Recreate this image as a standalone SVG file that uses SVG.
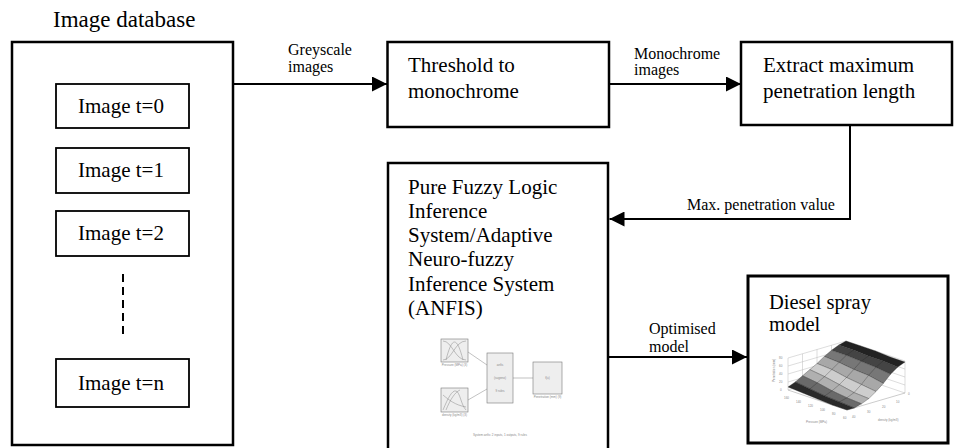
<svg xmlns="http://www.w3.org/2000/svg" width="955" height="448" viewBox="0 0 955 448">
<style>
.box{fill:#fff;stroke:#000}
.t{font-family:"Liberation Serif","Times New Roman",serif;fill:#000}
.big{font-size:21px}
.lbl{font-size:16px}
.mid{text-anchor:middle}
.tiny{font-family:"Liberation Sans",Arial,sans-serif;font-size:3px;fill:#888}
.conn{fill:none;stroke:#000;stroke-width:2}
.thumb{fill:#eee;stroke:#777;stroke-width:0.6}
.mf{fill:none;stroke:#888;stroke-width:0.5}
.grid{fill:none;stroke:#bbb;stroke-width:0.5}
.mesh{fill:none;stroke:#222;stroke-width:0.3}
</style>
<defs>
<marker id="arr" markerUnits="userSpaceOnUse" markerWidth="15" markerHeight="15" refX="15" refY="7.5" orient="auto">
<path d="M0,0 L15,7.5 L0,15 z" fill="#000"/>
</marker>
</defs>
<rect width="955" height="448" fill="#fff"/>

<g id="image-database">
<text class="t" x="53" y="27" font-size="23">Image database</text>
<rect class="box" x="12" y="42" width="221" height="403" stroke-width="2.5"/>
</g>
<g id="image-t0">
<rect class="box" x="56" y="84" width="133" height="44" stroke-width="1.8"/>
<text class="t big mid" x="121" y="113">Image t=0</text>
</g>
<g id="image-t1">
<rect class="box" x="56" y="148" width="133" height="45" stroke-width="1.8"/>
<text class="t big mid" x="121" y="177">Image t=1</text>
</g>
<g id="image-t2">
<rect class="box" x="56" y="211" width="133" height="45" stroke-width="1.8"/>
<text class="t big mid" x="121" y="240">Image t=2</text>
</g>
<g id="image-dots">
<line x1="123" y1="274" x2="123" y2="337" stroke="#000" stroke-width="2" stroke-dasharray="8 5"/>
</g>
<g id="image-tn">
<rect class="box" x="56" y="359" width="133" height="48" stroke-width="1.8"/>
<text class="t big mid" x="121" y="390">Image t=n</text>
</g>

<g id="threshold">
<rect class="box" x="387.5" y="42" width="221.5" height="85" stroke-width="2.5"/>
<text class="t big" x="408" y="72">Threshold to</text>
<text class="t big" x="408" y="98">monochrome</text>
</g>

<g id="extract">
<rect class="box" x="741" y="42" width="211" height="83" stroke-width="2.5"/>
<text class="t big" x="763" y="72">Extract maximum</text>
<text class="t big" x="763" y="98">penetration length</text>
</g>

<g id="anfis">
<rect class="box" x="388" y="163" width="220" height="300" stroke-width="2.5"/>
<text class="t big" x="408" y="194">Pure Fuzzy Logic</text>
<text class="t big" x="408" y="218">Inference</text>
<text class="t big" x="408" y="242">System/Adaptive</text>
<text class="t big" x="408" y="266">Neuro-fuzzy</text>
<text class="t big" x="408" y="291">Inference System</text>
<text class="t big" x="408" y="315">(ANFIS)</text>
<g id="anfis-structure">
<line x1="468" y1="352" x2="487" y2="365" stroke="#999" stroke-width="0.6"/>
<line x1="468" y1="400" x2="487" y2="389" stroke="#999" stroke-width="0.6"/>
<line x1="513" y1="378" x2="533" y2="378" stroke="#999" stroke-width="0.6"/>
<rect class="thumb" x="441" y="339" width="27" height="23"/>
<path class="mf" d="M443,341 C452,341 455,360 466,360"/>
<path class="mf" d="M443,360 C452,360 455,341 466,341"/>
<path class="mf" d="M446,360 C452,336 457,336 463,360"/>
<text class="tiny mid" x="454.5" y="366">Pressure (MPa) (3)</text>
<rect class="thumb" x="441" y="388" width="27" height="24"/>
<path class="mf" d="M443,410 C448,398 452,390 456,391 C460,392 461,405 466,410"/>
<path class="mf" d="M443,395 C449,400 455,405 466,407"/>
<path class="mf" d="M446,410 C450,400 455,392 460,390"/>
<text class="tiny mid" x="454.5" y="416">density (kg/m3) (3)</text>
<rect class="thumb" x="487" y="353" width="26" height="50" fill="#f3f3f3"/>
<text class="tiny mid" x="500" y="366">anfis</text>
<text class="tiny mid" x="500" y="379">(sugeno)</text>
<text class="tiny mid" x="500" y="392">9 rules</text>
<rect class="thumb" x="533" y="362" width="29" height="32" fill="#ddd"/>
<text class="tiny mid" x="547.5" y="379">f(u)</text>
<text class="tiny mid" x="547.5" y="398">Penetration (mm) (9)</text>
<text class="tiny mid" x="500" y="436">System anfis: 2 inputs, 1 outputs, 9 rules</text>
</g>
</g>

<g id="diesel">
<rect class="box" x="748" y="276" width="200" height="167" stroke-width="3"/>
<text class="t" font-size="20.5" x="769" y="309">Diesel spray</text>
<text class="t" font-size="20.5" x="769" y="331">model</text>
<g id="surface-plot">
<polyline class="grid" points="788,390 846,373 905,393"/>
<polyline class="grid" points="788,382 846,365 905,385"/>
<polyline class="grid" points="788,374 846,357 905,377"/>
<polyline class="grid" points="788,366 846,349 905,369"/>
<polyline class="grid" points="788,358 846,341 905,361"/>
<line class="grid" x1="788" y1="390" x2="788" y2="358"/>
<line class="grid" x1="802.5" y1="385.8" x2="802.5" y2="353.8"/>
<line class="grid" x1="817" y1="381.5" x2="817" y2="349.5"/>
<line class="grid" x1="831.5" y1="377.3" x2="831.5" y2="345.3"/>
<line class="grid" x1="846" y1="373" x2="846" y2="341"/>
<line class="grid" x1="875.5" y1="383" x2="875.5" y2="351"/>
<line class="grid" x1="905" y1="393" x2="905" y2="361"/>
<polyline fill="none" stroke="#999" stroke-width="0.5" points="788,390 847,410 905,393"/>
<polygon fill="#222" stroke="#222" stroke-width="0.3" points="838.8,345.1 853.5,350.1 868.3,356.1 883,361.1 897.8,367.1 905,362 890.3,357 875.5,351 860.8,346 846,341"/>
<polygon fill="#444" stroke="#222" stroke-width="0.3" points="831.5,350.3 846.3,355.3 861,361.3 875.8,367.3 890.5,374.3 897.8,367.1 883,361.1 868.3,356.1 853.5,350.1 838.8,345.1"/>
<polygon fill="#777" stroke="#222" stroke-width="0.3" points="824.3,356.4 839,362.4 853.8,369.4 868.5,375.4 883.3,383.4 890.5,374.3 875.8,367.3 861,361.3 846.3,355.3 831.5,350.3"/>
<polygon fill="#a8a8a8" stroke="#222" stroke-width="0.3" points="817,363.5 831.8,369.5 846.5,377.5 861.3,384.5 876,391.5 883.3,383.4 868.5,375.4 853.8,369.4 839,362.4 824.3,356.4"/>
<polygon fill="#cdcdcd" stroke="#222" stroke-width="0.3" points="809.8,369.6 824.5,376.6 839.3,384.6 854,392.6 868.8,398.6 876,391.5 861.3,384.5 846.5,377.5 831.8,369.5 817,363.5"/>
<polygon fill="#b0b0b0" stroke="#222" stroke-width="0.3" points="802.5,375.8 817.3,382.8 832,390.8 846.8,397.8 861.5,403.8 868.8,398.6 854,392.6 839.3,384.6 824.5,376.6 809.8,369.6"/>
<polygon fill="#6a6a6a" stroke="#222" stroke-width="0.3" points="795.3,381.9 810,388.9 824.8,395.9 839.5,401.9 854.3,407.9 861.5,403.8 846.8,397.8 832,390.8 817.3,382.8 802.5,375.8"/>
<polygon fill="#2a2a2a" stroke="#222" stroke-width="0.3" points="788,387 802.8,393 817.5,399 832.3,405 847,410 854.3,407.9 839.5,401.9 824.8,395.9 810,388.9 795.3,381.9"/>
<polyline class="mesh" points="802.8,393 810,388.9 817.3,382.8 824.5,376.6 831.8,369.5 839,362.4 846.3,355.3 853.5,350.1 860.8,346"/>
<polyline class="mesh" points="817.5,399 824.8,395.9 832,390.8 839.3,384.6 846.5,377.5 853.8,369.4 861,361.3 868.3,356.1 875.5,351"/>
<polyline class="mesh" points="832.3,405 839.5,401.9 846.8,397.8 854,392.6 861.3,384.5 868.5,375.4 875.8,367.3 883,361.1 890.3,357"/>
<text class="tiny" x="780" y="391">0</text>
<text class="tiny" x="779" y="383">20</text>
<text class="tiny" x="779" y="375">40</text>
<text class="tiny" x="779" y="367">60</text>
<text class="tiny" x="779" y="359">80</text>
<text class="tiny" x="775" y="382" transform="rotate(-90 775 382)">Penetration (mm)</text>
<text class="tiny" x="784" y="399">160</text>
<text class="tiny" x="796" y="403">140</text>
<text class="tiny" x="808" y="407">120</text>
<text class="tiny" x="820" y="411">100</text>
<text class="tiny" x="832" y="415">80</text>
<text class="tiny" x="843" y="419">60</text>
<text class="tiny" x="806" y="423">Pressure (MPa)</text>
<text class="tiny" x="852" y="418">40</text>
<text class="tiny" x="867" y="413">30</text>
<text class="tiny" x="882" y="408">20</text>
<text class="tiny" x="896" y="403">10</text>
<text class="tiny" x="908" y="395">0</text>
<text class="tiny" x="878" y="421">density (kg/m3)</text>
</g>
</g>

<g id="connectors">
<line class="conn" x1="233" y1="84" x2="387" y2="84" marker-end="url(#arr)"/>
<text class="t lbl" x="288" y="55">Greyscale</text>
<text class="t lbl" x="288" y="72">images</text>
<line class="conn" x1="609" y1="84" x2="741" y2="84" marker-end="url(#arr)"/>
<text class="t lbl" x="634" y="59">Monochrome</text>
<text class="t lbl" x="634" y="75">images</text>
<polyline class="conn" points="850,125 850,219 609.5,219" marker-end="url(#arr)"/>
<text class="t lbl" x="687" y="210">Max. penetration value</text>
<line class="conn" x1="608" y1="357" x2="747" y2="357" marker-end="url(#arr)"/>
<text class="t lbl" x="649" y="334">Optimised</text>
<text class="t lbl" x="649" y="352">model</text>
</g>
</svg>
